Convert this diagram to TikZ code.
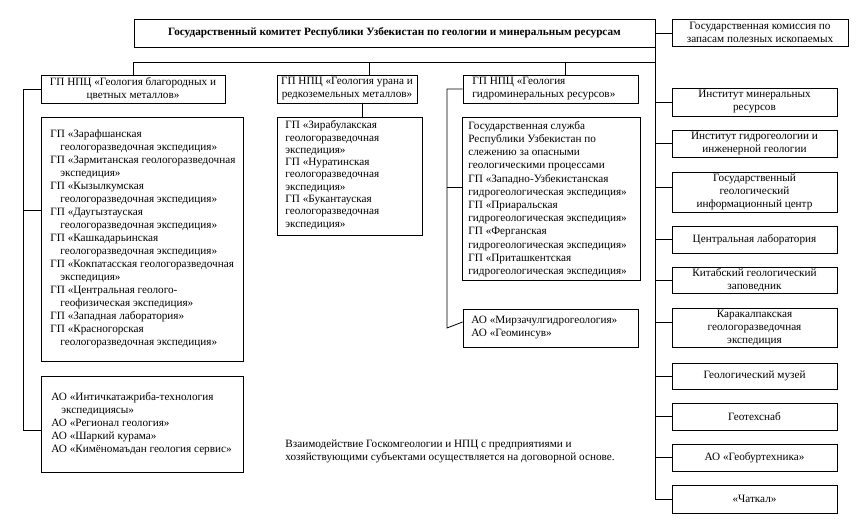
\documentclass[tikz,border=0pt]{standalone}
\usepackage{fontspec}
\setmainfont{Liberation Serif}
\newcommand\smalltxt{\fontsize{11.2}{13}\selectfont}
\newcommand\ind{\hspace*{10pt}}

\begin{document}
\begin{tikzpicture}[x=1pt, y=-1pt, line width=0.8pt,
  box/.style={draw, inner sep=1pt, align=center, font=\smalltxt},
  list/.style={inner sep=0pt, align=left, anchor=west, font=\smalltxt}]
\useasboundingbox (0,0) rectangle (857,526);

% committee and commission
\node [box, minimum width=521, minimum height=28, font=\smalltxt\bfseries] (com) at (394.5,33) {Государственный комитет Республики Узбекистан по геологии и минеральным ресурсам};
\node [box, minimum width=176, minimum height=27] (gkz) at (760,32.5) {Государственная комиссия по\\запасам полезных ископаемых};

% research and production centres
\node [box, minimum width=184, minimum height=28] (npc1) at (133,89) {ГП НПЦ «Геология благородных и\\цветных металлов»};
\node [box, minimum width=140, minimum height=28] (npc2) at (347,89) {ГП НПЦ «Геология урана и\\редкоземельных металлов»};
\node [box, minimum width=175, minimum height=28] (npc3) at (550.5,89) {};
\node [list] (npc3t) at (472,89) {ГП НПЦ «Геология\\гидроминеральных ресурсов»};

% enterprises
\node [box, minimum width=202, minimum height=244] (gp1) at (142,239) {};
\node [list] (gp1t) at (50,239) {ГП «Зарафшанская\\\ind геологоразведочная экспедиция»\\ГП «Зармитанская геологоразведочная\\\ind экспедиция»\\ГП «Кызылкумская\\\ind геологоразведочная экспедиция»\\ГП «Даугызтауская\\\ind геологоразведочная экспедиция»\\ГП «Кашкадарьинская\\\ind геологоразведочная экспедиция»\\ГП «Кокпатасская геологоразведочная\\\ind экспедиция»\\ГП «Центральная геолого-\\\ind геофизическая экспедиция»\\ГП «Западная лаборатория»\\ГП «Красногорская\\\ind геологоразведочная экспедиция»};
\node [box, minimum width=202, minimum height=96] (ao1) at (142,424) {};
\node [list] (ao1t) at (51,424) {АО «Интичкатажриба-технология\\\ind экспедициясы»\\АО «Регионал геология»\\АО «Шаркий курама»\\АО «Кимёномаъдан геология сервис»};
\node [box, minimum width=145, minimum height=118] (gp2) at (349.5,176) {};
\node [list, font=\fontsize{11.2}{12.3}\selectfont] (gp2t) at (285,175) {ГП «Зирабулакская\\геологоразведочная\\экспедиция»\\ГП «Нуратинская\\геологоразведочная\\экспедиция»\\ГП «Букантауская\\геологоразведочная\\экспедиция»};
\node [box, minimum width=178, minimum height=163] (gp3) at (551,198.5) {};
\node [list, font=\fontsize{11.2}{13.2}\selectfont] (gp3t) at (468,199) {Государственная служба\\Республики Узбекистан по\\слежению за опасными\\геологическими процессами\\ГП «Западно-Узбекистанская\\гидрогеологическая экспедиция»\\ГП «Приаральская\\гидрогеологическая экспедиция»\\ГП «Ферганская\\гидрогеологическая экспедиция»\\ГП «Приташкентская\\гидрогеологическая экспедиция»};
\node [box, minimum width=175, minimum height=38] (mirz) at (550.5,328) {};
\node [list] (mirzt) at (471,328) {АО «Мирзачулгидрогеология»\\АО «Геоминсув»};

\node [list] (note) at (285,451.5) {Взаимодействие Госкомгеологии и НПЦ с предприятиями и\\хозяйствующими субъектами осуществляется на договорной основе.};

% right column
\node [box, minimum width=165, minimum height=28] (imr) at (754.5,102) {Институт минеральных\\ресурсов};
\node [box, minimum width=165, minimum height=27] (igig) at (754.5,143.5) {Институт гидрогеологии и\\инженерной геологии};
\node [box, minimum width=165, minimum height=40] (ggic) at (754.5,192) {Государственный\\геологический\\информационный центр};
\node [box, minimum width=165, minimum height=27] (clab) at (754.5,239.5) {Центральная лаборатория};
\node [box, minimum width=165, minimum height=26] (kgz) at (754.5,280) {Китабский геологический\\заповедник};
\node [box, minimum width=165, minimum height=39] (kge) at (754.5,327.5) {Каракалпакская\\геологоразведочная\\экспедиция};
\node [box, minimum width=165, minimum height=26] (gmuz) at (754.5,376) {Геологический музей};
\node [box, minimum width=165, minimum height=27] (gts) at (754.5,416.5) {Геотехснаб};
\node [box, minimum width=165, minimum height=27] (gbt) at (754.5,457.5) {АО «Геобуртехника»};
\node [box, minimum width=165, minimum height=28] (chat) at (754.5,499) {«Чаткал»};

% connectors
\coordinate (bus) at (655,62);
\coordinate (d2) at (369,62);
\coordinate (d3) at (565,62);
\coordinate (ls) at (23,0);
\coordinate (ms) at (362,0);
\coordinate (rs) at (447,0);
\coordinate (ao) at ([yshift=-6pt]ao1.west);

\draw (com.east) -- (com.east -| gkz.west);
\draw (com.south east) |- (chat.west);
\draw (bus) -| (npc1.north);
\draw (d2) -- (d2 |- npc2.north);
\draw (d3) -- (d3 |- npc3.north);
\draw (npc1.west) -| (ls |- ao) -- (ao);
\draw ([yshift=29pt]gp1.west) -- ([yshift=29pt]gp1.west -| ls);
\draw (npc2.south -| ms) -- (gp2.north -| ms);
\draw (npc3.west) -| (rs |- mirz.west) -- ([yshift=6pt]mirz.west);
\draw ([yshift=11.5pt]gp3.west) -- ([yshift=11.5pt]gp3.west -| rs);
\draw (imr.west) -- (imr.west -| bus);
\draw (igig.west) -- (igig.west -| bus);
\draw ([yshift=5pt]ggic.west) -- ([yshift=5pt]ggic.west -| bus);
\draw (clab.west) -- (clab.west -| bus);
\draw (kgz.west) -- (kgz.west -| bus);
\draw ([yshift=5.5pt]kge.west) -- ([yshift=5.5pt]kge.west -| bus);
\draw (gmuz.west) -- (gmuz.west -| bus);
\draw (gts.west) -- (gts.west -| bus);
\draw (gbt.west) -- (gbt.west -| bus);
\end{tikzpicture}
\end{document}
